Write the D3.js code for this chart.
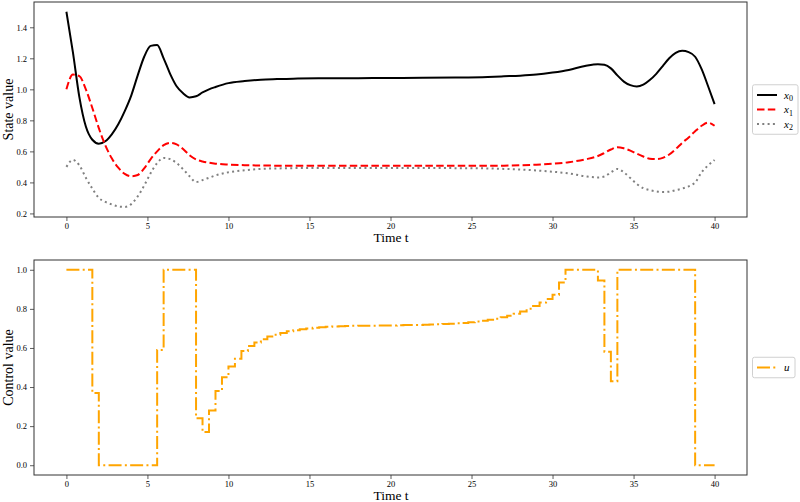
<!DOCTYPE html>
<html lang="en">
<head>
<meta charset="UTF-8">
<title>States and control</title>
<script src="https://cdn.jsdelivr.net/npm/d3@7"></script>
<style>
  body { margin: 0; background: #fff; }
  text { font-family: "Liberation Serif", "Times New Roman", serif; fill: #000; }
</style>
</head>
<body>
<svg id="chart" width="800" height="502"></svg>
<script>
// state trajectories
const tState = [0, 0.4, 0.8, 1.2, 1.6, 2.0, 2.4, 2.8, 3.2, 3.6, 4.0, 4.4, 4.8, 5.2, 5.6, 6.0, 6.4, 6.8, 7.2, 7.6,
  8.0, 8.4, 8.8, 9.2, 10, 11, 12, 13, 14, 16, 18, 20, 22, 24, 26, 27, 28, 29, 30, 31, 32, 32.8, 33.2, 33.6,
  34.0, 34.4, 34.8, 35.2, 35.6, 36.0, 36.4, 36.8, 37.2, 37.6, 38.0, 38.4, 38.8, 39.2, 39.6, 40]

const x0 = [1.50, 1.24, 0.95, 0.76, 0.675, 0.65, 0.665, 0.71, 0.775, 0.86, 0.96, 1.09, 1.21, 1.28, 1.285, 1.20, 1.10, 1.02, 0.975, 0.948,
  0.955, 0.98, 1.0, 1.015, 1.04, 1.053, 1.062, 1.066, 1.069, 1.071, 1.072, 1.073, 1.074, 1.076, 1.08, 1.084, 1.088, 1.095, 1.108, 1.125, 1.15, 1.162, 1.158, 1.135,
  1.09, 1.05, 1.027, 1.018, 1.03, 1.06, 1.10, 1.15, 1.20, 1.235, 1.248, 1.24, 1.21, 1.13, 1.02, 0.905]

const x1 = [1.0, 1.095, 1.085, 1.0, 0.88, 0.75, 0.64, 0.555, 0.495, 0.455, 0.44, 0.448, 0.49, 0.55, 0.60, 0.64, 0.655, 0.645, 0.615, 0.575,
  0.548, 0.535, 0.527, 0.521, 0.515, 0.511, 0.509, 0.508, 0.507, 0.507, 0.507, 0.507, 0.507, 0.507, 0.507, 0.508, 0.51, 0.514, 0.52, 0.53, 0.548, 0.57, 0.59, 0.612,
  0.627, 0.62, 0.605, 0.585, 0.567, 0.553, 0.55, 0.558, 0.58, 0.615, 0.655, 0.69, 0.73, 0.765, 0.785, 0.765]

const x2 = [0.50, 0.545, 0.51, 0.43, 0.36, 0.30, 0.275, 0.258, 0.245, 0.242, 0.26, 0.31, 0.38, 0.46, 0.525, 0.558, 0.55, 0.525, 0.485, 0.44,
  0.402, 0.415, 0.43, 0.445, 0.465, 0.478, 0.487, 0.49, 0.492, 0.493, 0.493, 0.493, 0.493, 0.492, 0.49, 0.487, 0.483, 0.477, 0.469, 0.458, 0.44, 0.432, 0.438, 0.465,
  0.487, 0.465, 0.428, 0.39, 0.363, 0.35, 0.342, 0.338, 0.34, 0.35, 0.36, 0.375, 0.40, 0.465, 0.51, 0.545]

// piecewise constant control, one value per 0.4 interval (last value repeated to close the step at t = 40)
const tControl = [0, 0.4, 0.8, 1.2, 1.6, 2.0, 2.4, 2.8, 3.2, 3.6, 4.0, 4.4, 4.8, 5.2, 5.6, 6.0, 6.4, 6.8, 7.2, 7.6,
  8.0, 8.4, 8.8, 9.2, 9.6, 10.0, 10.4, 10.8, 11.2, 11.6, 12.0, 12.4, 12.8, 13.2, 13.6, 14.0, 14.4, 14.8, 15.2, 15.6,
  16.0, 16.4, 16.8, 17.2, 17.6, 18.0, 18.4, 18.8, 19.2, 19.6, 20.0, 20.4, 20.8, 21.2, 21.6, 22.0, 22.4, 22.8, 23.2, 23.6,
  24.0, 24.4, 24.8, 25.2, 25.6, 26.0, 26.4, 26.8, 27.2, 27.6, 28.0, 28.4, 28.8, 29.2, 29.6, 30.0, 30.4, 30.8, 31.2, 31.6,
  32.0, 32.4, 32.8, 33.2, 33.6, 34.0, 34.4, 34.8, 35.2, 35.6, 36.0, 36.4, 36.8, 37.2, 37.6, 38.0, 38.4, 38.8, 39.2, 39.6, 40.0]

const u = [1, 1, 1, 1, 0.37, 0, 0, 0, 0, 0, 0, 0, 0, 0, 0.59, 1, 1, 1, 1, 1,
  0.24, 0.17, 0.28, 0.38, 0.45, 0.505, 0.545, 0.585, 0.61, 0.628, 0.645, 0.658, 0.668, 0.677, 0.685, 0.691, 0.696, 0.700, 0.703, 0.706,
  0.708, 0.710, 0.711, 0.712, 0.713, 0.714, 0.714, 0.714, 0.715, 0.715, 0.715, 0.716, 0.717, 0.718, 0.718, 0.719, 0.720, 0.721, 0.722, 0.724,
  0.726, 0.728, 0.731, 0.735, 0.739, 0.744, 0.750, 0.757, 0.765, 0.775, 0.786, 0.800, 0.815, 0.832, 0.850, 0.872, 0.935, 1, 1, 1,
  1, 1, 0.945, 0.58, 0.43, 1, 1, 1, 1, 1, 1, 1, 1, 1, 1, 1, 1, 0, 0, 0, 0]

const xTicks = [0, 5, 10, 15, 20, 25, 30, 35, 40]
const stateTicks = [0.2, 0.4, 0.6, 0.8, 1.0, 1.2, 1.4]
const controlTicks = [0.0, 0.2, 0.4, 0.6, 0.8, 1.0]

const svg = d3.select('#chart')

const box = { left: 34, right: 747 }
const panels = [
  { top: 2, bottom: 217, domain: [0.177, 1.563], ticks: stateTicks, ylabel: 'State value' },
  { top: 260, bottom: 475, domain: [-0.05, 1.05], ticks: controlTicks, ylabel: 'Control value' }
]

const xScale = d3.scaleLinear().domain([-2, 42]).range([box.left, box.right])

function drawPanel(p) {
  const y = d3.scaleLinear().domain(p.domain).range([p.bottom, p.top])
  const g = svg.append('g')

  const xAxis = g.append('g')
    .attr('transform', `translate(0, ${p.bottom})`)
    .call(d3.axisBottom(xScale).tickValues(xTicks).tickSize(4).tickPadding(2).tickFormat(d3.format('d')))
  const yAxis = g.append('g')
    .attr('transform', `translate(${box.left}, 0)`)
    .call(d3.axisLeft(y).tickValues(p.ticks).tickSize(4).tickPadding(3).tickFormat(d3.format('.1f')))

  for (const a of [xAxis, yAxis]) {
    a.select('.domain').remove()
    a.selectAll('line').attr('stroke', '#333').attr('stroke-width', 0.8)
    a.selectAll('text').style('font-family', '"Liberation Serif", serif').style('font-size', '8.5px').attr('fill', '#222')
  }

  g.append('text')
    .attr('x', (box.left + box.right) / 2 + 0.5)
    .attr('y', p.bottom + 24.5)
    .attr('text-anchor', 'middle')
    .style('font-size', '13.5px')
    .text('Time t')

  g.append('text')
    .attr('transform', `translate(13, ${(p.top + p.bottom) / 2}) rotate(-90)`)
    .attr('text-anchor', 'middle')
    .style('font-size', '14px')
    .text(p.ylabel)

  return { g, y }
}

// top: states
const statePanel = drawPanel(panels[0])
const stateSeries = [
  { values: x0, color: '#000', dash: null, name: '0' },
  { values: x1, color: '#ff0000', dash: '7.5,3.3', name: '1' },
  { values: x2, color: '#808080', dash: '2,3.3', name: '2' }
]
stateSeries.forEach(s => {
  const line = d3.line().x((d, i) => xScale(tState[i])).y(d => statePanel.y(d)).curve(d3.curveMonotoneX)
  statePanel.g.append('path')
    .attr('d', line(s.values))
    .attr('fill', 'none')
    .attr('stroke', s.color)
    .attr('stroke-width', 2)
    .attr('stroke-dasharray', s.dash)
})

// bottom: control
const controlPanel = drawPanel(panels[1])
const stepLine = d3.line().x((d, i) => xScale(tControl[i])).y(d => controlPanel.y(d)).curve(d3.curveStepAfter)
controlPanel.g.append('path')
  .attr('d', stepLine(u.concat([u[u.length - 1]])))
  .attr('fill', 'none')
  .attr('stroke', '#ffa500')
  .attr('stroke-width', 2)
  .attr('stroke-dasharray', '13,3.3,2,3.3')

// frames on top of the lines
panels.forEach(p => {
  svg.append('rect')
    .attr('x', box.left).attr('y', p.top)
    .attr('width', box.right - box.left).attr('height', p.bottom - p.top)
    .attr('fill', 'none').attr('stroke', '#333').attr('stroke-width', 1)
})

// legends
function legend(p, entries) {
  const h = entries.length * 14.5 + 6
  const cy = (p.top + p.bottom) / 2
  const y0 = cy - h / 2
  const lg = svg.append('g')
  lg.append('rect')
    .attr('x', 752.5).attr('y', y0)
    .attr('width', entries.length > 1 ? 45.5 : 42.5).attr('height', h)
    .attr('rx', 2)
    .attr('fill', '#fff').attr('fill-opacity', 0.8)
    .attr('stroke', '#d0d0d0').attr('stroke-width', 1)
  entries.forEach((e, i) => {
    const yy = y0 + 3 + 7.25 + i * 14.5
    lg.append('line')
      .attr('x1', 757).attr('x2', 777).attr('y1', yy).attr('y2', yy)
      .attr('stroke', e.color).attr('stroke-width', 2)
      .attr('stroke-dasharray', e.dash)
    const t = lg.append('text').attr('x', 784).attr('y', yy + 3.5).style('font-size', '11px')
    t.append('tspan').style('font-style', 'italic').text(e.sym)
    if (e.sub) t.append('tspan').attr('dy', 2.5).style('font-size', '8px').text(e.sub)
  })
}

legend(panels[0], stateSeries.map(s => ({ color: s.color, dash: s.dash, sym: 'x', sub: s.name })))
legend(panels[1], [{ color: '#ffa500', dash: '13,3.3,2,3.3', sym: 'u', sub: null }])
</script>
</body>
</html>
